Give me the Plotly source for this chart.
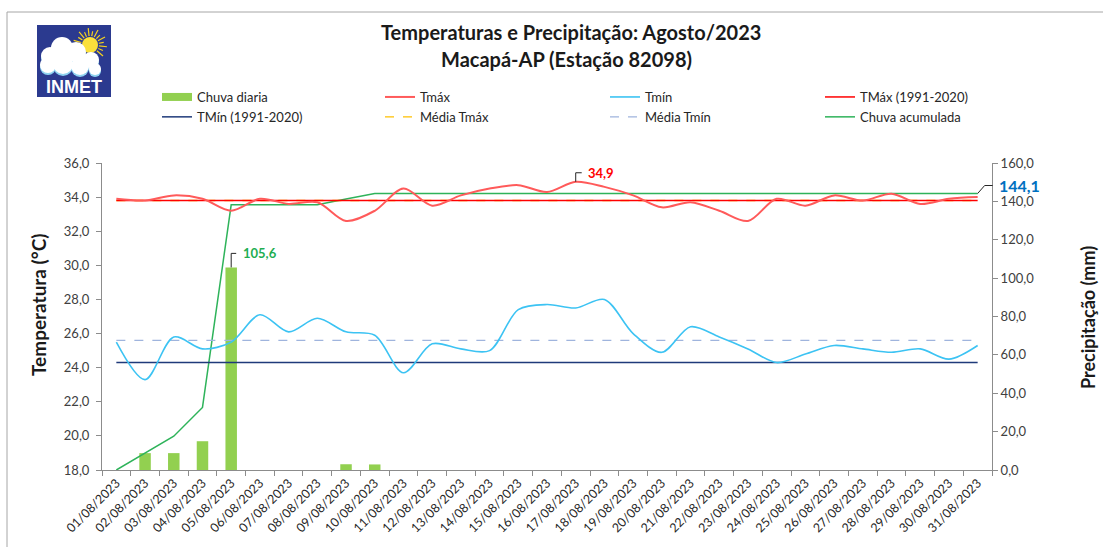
import plotly.graph_objects as go
import math

# ---------------- data ----------------
days = [f"{d:02d}/08/2023" for d in range(1, 32)]

tmax = [33.9, 33.8, 34.1, 33.9, 33.2, 33.9, 33.6, 33.7, 32.6, 33.2, 34.5, 33.5, 34.1, 34.5, 34.7, 34.3,
        34.9, 34.6, 34.1, 33.4, 33.7, 33.2, 32.6, 33.9, 33.5, 34.1, 33.8, 34.2, 33.6, 33.9, 34.0]
tmin = [25.5, 23.3, 25.8, 25.1, 25.5, 27.1, 26.1, 26.9, 26.1, 25.9, 23.7, 25.4, 25.1, 25.0, 27.4, 27.7,
        27.5, 28.0, 26.0, 24.9, 26.4, 25.8, 25.1, 24.3, 24.8, 25.3, 25.1, 24.9, 25.1, 24.5, 25.3]
rain_daily = [0.0, 8.8, 8.8, 15.0, 105.6, 0.0, 0.0, 0.0, 3.0, 2.9, 0.0, 0.0, 0.0, 0.0, 0.0, 0.0,
              0.0, 0.0, 0.0, 0.0, 0.0, 0.0, 0.0, 0.0, 0.0, 0.0, 0.0, 0.0, 0.0, 0.0, 0.0]
rain_acc = [0.0, 8.8, 17.6, 32.6, 138.2, 138.2, 138.2, 138.2, 141.2, 144.1, 144.1, 144.1, 144.1, 144.1,
            144.1, 144.1, 144.1, 144.1, 144.1, 144.1, 144.1, 144.1, 144.1, 144.1, 144.1, 144.1, 144.1,
            144.1, 144.1, 144.1, 144.1]
tmax_clim = 33.8
tmin_clim = 24.3
media_tmax = 33.8
media_tmin = 25.6

temp_ticks = [18, 20, 22, 24, 26, 28, 30, 32, 34, 36]
rain_ticks = [0, 20, 40, 60, 80, 100, 120, 140, 160]

# ---------------- geometry ----------------
W, H = 1103, 547
L, R, T, B = 102, 992, 163, 470
PW, PH = R - L, B - T
N = len(days)


def px(x):
    return (x - L) / PW


def py(y):
    return (B - y) / PH


def xcat(i, dx=0.0):
    return (i + 0.5) / N + dx / PW


def ytemp(v, dy=0.0):
    return (v - temp_ticks[0]) / (temp_ticks[-1] - temp_ticks[0]) + dy / PH


def yrain(v, dy=0.0):
    return (v - rain_ticks[0]) / (rain_ticks[-1] - rain_ticks[0]) + dy / PH


FONT = "Lato"
n = len(days)

fig = go.Figure()

# precipitation (primary y, right side, drawn underneath)
fig.add_trace(go.Bar(x=days, y=rain_daily, name="Chuva diaria", marker=dict(color="#92D050", line=dict(width=0)),
                     yaxis="y", showlegend=False))
# legend-only entry drawn as a wide green swatch, like the original
fig.add_trace(go.Scatter(x=[None], y=[None], name="Chuva diaria", mode="lines",
                         line=dict(color="#92D050", width=8), yaxis="y", legend="legend", legendrank=1,
                         hoverinfo="skip"))
fig.add_trace(go.Scatter(x=days, y=rain_acc, name="Chuva acumulada", mode="lines",
                         line=dict(color="#2EB35A", width=1.5), yaxis="y", legend="legend4", legendrank=2))

# temperatures (overlaying axis on left)
fig.add_trace(go.Scatter(x=days, y=[media_tmax] * n, name="Média Tmáx", mode="lines",
                         line=dict(color="#FFC000", width=1.3, dash="dash"), yaxis="y2", legend="legend2", legendrank=2))
fig.add_trace(go.Scatter(x=days, y=[media_tmin] * n, name="Média Tmín", mode="lines",
                         line=dict(color="#9FB4DD", width=1.3, dash="dash"), yaxis="y2", legend="legend3", legendrank=2))
fig.add_trace(go.Scatter(x=days, y=[tmin_clim] * n, name="TMín (1991-2020)", mode="lines",
                         line=dict(color="#1F3A7A", width=1.5), yaxis="y2", legend="legend", legendrank=2))
fig.add_trace(go.Scatter(x=days, y=[tmax_clim] * n, name="TMáx (1991-2020)", mode="lines",
                         line=dict(color="#FF0000", width=1.5), yaxis="y2", legend="legend4", legendrank=1))
fig.add_trace(go.Scatter(x=days, y=tmin, name="Tmín", mode="lines",
                         line=dict(color="#3CC3F3", width=1.6, shape="spline", smoothing=0.9), yaxis="y2",
                         legend="legend3", legendrank=1))
fig.add_trace(go.Scatter(x=days, y=tmax, name="Tmáx", mode="lines",
                         line=dict(color="#FF5A5A", width=2, shape="spline", smoothing=0.9), yaxis="y2",
                         legend="legend2", legendrank=1))

axis_gray = "#8C8C8C"
tick_font = dict(family=FONT, size=13, color="#404040")

legend_common = dict(orientation="v", xanchor="left", yanchor="top", bgcolor="rgba(0,0,0,0)",
                     font=dict(family=FONT, size=13, color="#262626"), tracegroupgap=0, itemwidth=30)
leg_y = py(82)

fig.update_layout(
    width=W, height=H,
    margin=dict(l=L, r=W - R, t=T, b=H - B, pad=0),
    paper_bgcolor="white", plot_bgcolor="white",
    separators=",.",
    bargap=0.6,
    font=dict(family=FONT),
    xaxis=dict(type="category", showgrid=False, showline=True, linecolor=axis_gray, linewidth=1,
               ticks="outside", tickson="boundaries", ticklen=5, tickcolor=axis_gray,
               tickangle=-45, tickfont=dict(family=FONT, size=12.5, color="#262626"), zeroline=False),
    yaxis=dict(range=[rain_ticks[0], rain_ticks[-1]], side="right", showgrid=False, showline=True,
               linecolor=axis_gray, ticks="outside", ticklen=5, tickcolor=axis_gray,
               tickvals=rain_ticks, tickformat=".1f", tickfont=tick_font, zeroline=False),
    yaxis2=dict(range=[temp_ticks[0], temp_ticks[-1]], side="left", overlaying="y", showgrid=False,
                showline=True, linecolor=axis_gray, ticks="outside", ticklen=5, tickcolor=axis_gray,
                tickvals=temp_ticks, tickformat=".1f", tickfont=tick_font, zeroline=False,
                ticklabelstandoff=4),
    legend=dict(x=px(157), y=leg_y, **legend_common),
    legend2=dict(x=px(380), y=leg_y, **legend_common),
    legend3=dict(x=px(605), y=leg_y, **legend_common),
    legend4=dict(x=px(820), y=leg_y, **legend_common),
    showlegend=True,
)

annotations = []
# title
annotations.append(dict(text="<b>Temperaturas e Precipitação: Agosto/2023</b>", x=px(571), y=py(32),
                        xref="paper", yref="paper", showarrow=False, xanchor="center", yanchor="middle",
                        font=dict(family=FONT, size=20, color="#1A1A1A")))
annotations.append(dict(text="<b>Macapá-AP (Estação 82098)</b>", x=px(566), y=py(59),
                        xref="paper", yref="paper", showarrow=False, xanchor="center", yanchor="middle",
                        font=dict(family=FONT, size=20, color="#1A1A1A")))
# axis titles
annotations.append(dict(text="<b>Temperatura (°C)</b>", x=px(38), y=py(305), xref="paper", yref="paper",
                        showarrow=False, textangle=-90, xanchor="center", yanchor="middle",
                        font=dict(family=FONT, size=19, color="#1A1A1A")))
annotations.append(dict(text="<b>Precipitação (mm)</b>", x=px(1088), y=py(318), xref="paper", yref="paper",
                        showarrow=False, textangle=-90, xanchor="center", yanchor="middle",
                        font=dict(family=FONT, size=18, color="#1A1A1A")))

# data labels
imax_rain = rain_daily.index(max(rain_daily))
imax_t = tmax.index(max(tmax))
ilast = N - 1
annotations.append(dict(text="<b>" + f"{rain_daily[imax_rain]:.1f}".replace(".", ",") + "</b>",
                        x=xcat(imax_rain, 10), y=yrain(rain_daily[imax_rain], 14), xref="paper", yref="paper",
                        showarrow=False, xanchor="left", yanchor="middle",
                        font=dict(family=FONT, size=13, color="#1FAE52")))
annotations.append(dict(text="<b>" + f"{tmax[imax_t]:.1f}".replace(".", ",") + "</b>",
                        x=xcat(imax_t, 10), y=ytemp(tmax[imax_t], 9), xref="paper", yref="paper",
                        showarrow=False, xanchor="left", yanchor="middle",
                        font=dict(family=FONT, size=13, color="#FF0000")))
annotations.append(dict(text="<b>" + f"{rain_acc[ilast]:.1f}".replace(".", ",") + "</b>",
                        x=xcat(ilast, 19), y=yrain(rain_acc[ilast], 8), xref="paper", yref="paper",
                        showarrow=False, xanchor="left", yanchor="middle",
                        font=dict(family=FONT, size=16, color="#0070C0")))

shapes = []
lead = dict(color="#262626", width=1)
# leader for rain max
x0, y0 = xcat(imax_rain), yrain(rain_daily[imax_rain])
shapes.append(dict(type="path", xref="paper", yref="paper",
                   path=f"M{x0},{y0} L{x0},{yrain(rain_daily[imax_rain], 14)} L{xcat(imax_rain, 5)},{yrain(rain_daily[imax_rain], 14)}",
                   line=lead))
# leader for tmax max
x0, y0 = xcat(imax_t), ytemp(tmax[imax_t])
shapes.append(dict(type="path", xref="paper", yref="paper",
                   path=f"M{x0},{y0} L{x0},{ytemp(tmax[imax_t], 9)} L{xcat(imax_t, 6)},{ytemp(tmax[imax_t], 9)}",
                   line=lead))
# leader for total
x0, y0 = xcat(ilast), yrain(rain_acc[ilast])
shapes.append(dict(type="path", xref="paper", yref="paper",
                   path=f"M{x0},{y0} L{xcat(ilast, 7)},{yrain(rain_acc[ilast], 8)} L{xcat(ilast, 15)},{yrain(rain_acc[ilast], 8)}",
                   line=lead))

# outer frame
shapes.append(dict(type="rect", xref="paper", yref="paper", x0=px(7), y0=py(12), x1=px(1130), y1=py(580),
                   line=dict(color="#A6A6A6", width=1), layer="below"))

# ---- INMET logo (decorative) ----
LX0, LY0, LX1, LY1 = 37, 25, 111, 97
shapes.append(dict(type="rect", xref="paper", yref="paper", x0=px(LX0), y0=py(LY0), x1=px(LX1), y1=py(LY1),
                   fillcolor="#2B3A8F", line=dict(width=0)))
# sun rays
cx, cy = 90, 45
for k in range(13):
    ang = math.radians(-40 + k * 17)
    r1, r2 = 9, (17 if k % 2 == 0 else 14)
    shapes.append(dict(type="line", xref="paper", yref="paper",
                       x0=px(cx + r1 * math.cos(ang)), y0=py(cy - r1 * math.sin(ang)),
                       x1=px(cx + r2 * math.cos(ang)), y1=py(cy - r2 * math.sin(ang)),
                       line=dict(color="#F6D21E", width=1.2)))


def circ(x, y, r, color):
    return dict(type="circle", xref="paper", yref="paper", x0=px(x - r), x1=px(x + r),
                y0=py(y + r), y1=py(y - r), fillcolor=color, line=dict(width=0))


shapes.append(circ(cx, cy, 8, "#FBE03A"))
cloud = [(50, 56, 9), (62, 48, 11), (76, 52, 10), (91, 60, 8), (63, 64, 10), (80, 66, 9), (48, 65, 8), (95, 69, 6)]
for (x, y, r) in cloud:
    shapes.append(circ(x, y + 2, r, "#8FD3F0"))
for (x, y, r) in cloud:
    shapes.append(circ(x, y, r, "#FFFFFF"))
annotations.append(dict(text="<b>INMET</b>", x=px(74), y=py(87), xref="paper", yref="paper", showarrow=False,
                        xanchor="center", yanchor="middle",
                        font=dict(family="Liberation Sans", size=18, color="white")))

fig.update_layout(annotations=annotations, shapes=shapes)

fig.write_html("out.html", config={"displayModeBar": False},
               post_script="document.body.style.margin='0';")
